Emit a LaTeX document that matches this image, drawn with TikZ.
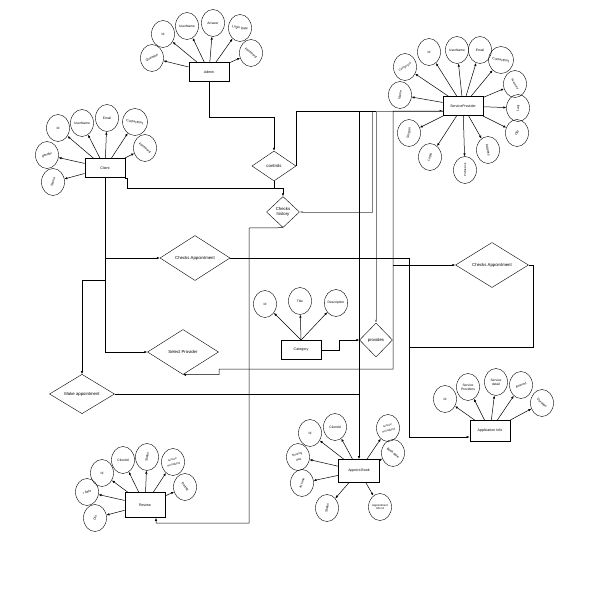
\documentclass[tikz,border=0pt]{standalone}
\usepackage{fontspec}
\setmainfont{Liberation Sans}
\usetikzlibrary{shapes.geometric,arrows.meta}
\tikzset{
  ent/.style={draw,thick,rectangle,minimum width=40pt,minimum height=19pt,inner sep=0pt,font=\fontsize{3.6}{4}\selectfont},
  attr/.style={draw,ellipse,minimum width=23pt,minimum height=27pt,inner sep=0pt,align=center,font=\fontsize{3.3}{3.8}\selectfont},
  small/.style={font=\fontsize{2.8}{3.2}\selectfont},
  rel/.style={draw,diamond,inner sep=0pt,align=center,font=\fontsize{4.3}{5}\selectfont},
  arr/.style={-{Latex[length=3pt,width=2.4pt]},line width=0.5pt},
  ln/.style={line width=0.6pt},
}
\begin{document}
\begin{tikzpicture}[x=1pt,y=-1pt]
\useasboundingbox[fill=white] (0,0) rectangle (597,598);

% ---------------- Admin ----------------
\node[ent] (admin) at (209,72) {Admin};
\node[attr] (ad1) at (163,34) {Id};
\node[attr] (ad2) at (187,26) {UserName};
\node[attr] (ad3) at (213,23) {Answer};
\node[attr] (ad4) at (240,28) {\rotatebox{-10}{Login Date}};
\node[attr] (ad5) at (251,53) {\rotatebox{-40}{Password}};
\node[attr] (ad6) at (152,58) {\rotatebox{25}{Question}};
\foreach \a in {ad1,ad2,ad3,ad4,ad5,ad6} \draw[arr] (admin) -- (\a);

% ---------------- Client ----------------
\node[ent] (client) at (105,168) {Client};
\node[attr] (cl1) at (58,128) {Id};
\node[attr] (cl2) at (82,123) {UserName};
\node[attr] (cl3) at (107,118) {Email};
\node[attr] (cl4) at (135,122) {\rotatebox{-10}{ContactNo1}};
\node[attr] (cl5) at (145,148) {\rotatebox{-40}{Password}};
\node[attr] (cl6) at (47,155) {\rotatebox{20}{gender}};
\node[attr] (cl7) at (53,182) {\rotatebox{70}{Name}};
\foreach \a in {cl1,cl2,cl3,cl4,cl5,cl6,cl7} \draw[arr] (client) -- (\a);

% ---------------- Service Provider ----------------
\node[ent] (sp) at (463,106) {ServiceProvider};
\node[attr] (sp1) at (429,52) {Id};
\node[attr] (sp2) at (457,50) {UserName};
\node[attr] (sp3) at (480,50) {Email};
\node[attr] (sp4) at (501,60) {\rotatebox{-10}{ContactNo1}};
\node[attr,small] (sp5) at (515,84) {\rotatebox{-60}{Password}};
\node[attr] (sp6) at (518,108) {\rotatebox{80}{Last}};
\node[attr] (sp7) at (517,133) {\rotatebox{70}{City}};
\node[attr] (sp8) at (488,150) {\rotatebox{-80}{Address}};
\node[attr,small] (sp9) at (465,170) {\rotatebox{90}{ProfileLink}};
\node[attr] (sp10) at (430,157) {\rotatebox{70}{Login}};
\node[attr] (sp11) at (409,133) {\rotatebox{80}{Slogan}};
\node[attr] (sp12) at (400,95) {\rotatebox{80}{Name}};
\node[attr,small] (sp13) at (405,67) {\rotatebox{30}{CategoryId}};
\foreach \a in {sp1,sp2,sp3,sp4,sp5,sp6,sp7,sp8,sp9,sp10,sp11,sp12,sp13} \draw[arr] (sp) -- (\a);

% ---------------- Relationships ----------------
\node[rel,minimum width=44pt,minimum height=30pt] (controls) at (274,166) {controls};
\node[rel,minimum width=33pt,minimum height=31pt] (ch) at (283,212) {Checks\\history};
\node[rel,minimum width=70pt,minimum height=45pt] (ca1) at (195,258) {Checks Appointment};
\node[rel,minimum width=73pt,minimum height=45pt] (ca2) at (492,265) {Checks Appointment};
\node[rel,minimum width=71pt,minimum height=45pt] (selp) at (183,352) {Select Provider};
\node[rel,minimum width=65pt,minimum height=28pt] (ma) at (82,394) {Make appointment};
\node[rel,minimum width=33pt,minimum height=34pt] (prov) at (376,340) {provides};

% ---------------- Category ----------------
\node[ent] (cat) at (301,350) {Category};
\node[attr] (cat1) at (265,304) {Id};
\node[attr] (cat2) at (300,301) {Title};
\node[attr] (cat3) at (336,303) {Description};
\foreach \a in {cat1,cat2,cat3} \draw[arr] (cat.north) -- (\a);

% ---------------- Application Info ----------------
\node[ent,minimum height=21pt] (ai) at (490,431) {Application Info};
\node[attr] (ai1) at (445,399) {Id};
\node[attr] (ai2) at (468,387) {Service\\Providers};
\node[attr] (ai3) at (496,382) {Service\\detail};
\node[attr] (ai4) at (521,385) {\rotatebox{20}{Amount}};
\node[attr] (ai5) at (542,403) {\rotatebox{-45}{Duration}};
\foreach \a in {ai1,ai2,ai3,ai4,ai5} \draw[arr] (ai) -- (\a);

% ---------------- Appoint Book ----------------
\node[ent,minimum width=41pt,minimum height=23pt] (ab) at (359,471) {Appoint Book};
\node[attr] (ab1) at (310,433) {Id};
\node[attr] (ab2) at (335,427) {ClientId};
\node[attr,small] (ab3) at (388,428) {\rotatebox{15}{\shortstack{service\\ProviderId}}};
\node[attr] (ab4) at (393,453) {\rotatebox{-40}{Book date}};
\node[attr,small] (ab5) at (298,457) {\rotatebox{15}{\shortstack{Booking\\date}}};
\node[attr] (ab6) at (302,483) {\rotatebox{70}{At time}};
\node[attr] (ab7) at (327,508) {\rotatebox{80}{Status}};
\node[attr,small] (ab8) at (380,507) {Appointment\\Info Id};
\foreach \a in {ab1,ab2,ab3,ab4,ab5,ab6,ab7,ab8} \draw[arr] (ab) -- (\a);

% ---------------- Review ----------------
\node[ent,minimum height=25pt] (rv) at (145,505) {Review};
\node[attr] (rv1) at (102,473) {Id};
\node[attr] (rv2) at (123,460) {ClientId};
\node[attr] (rv3) at (147,457) {\rotatebox{80}{Status}};
\node[attr,small] (rv4) at (173,462) {\rotatebox{15}{\shortstack{service\\ProviderId}}};
\node[attr] (rv5) at (185,487) {\rotatebox{-50}{Rating}};
\node[attr] (rv6) at (87,492) {\rotatebox{15}{r date}};
\node[attr] (rv7) at (95,518) {\rotatebox{70}{Dis}};
\foreach \a in {rv1,rv2,rv3,rv4,rv5,rv6,rv7} \draw[arr] (rv) -- (\a);

% ---------------- Connectors ----------------
\draw[arr] (admin.south) -- (209,117) -- (274,117) -- (controls.north);
\draw[arr] (controls.east) |- ([yshift=-5pt]sp.west);
\draw[ln] (controls.south) -- (274,188);
\draw[arr] (client.south east) -| (127,188) -| (ch.north);
\draw[arr,gray] ([yshift=-5pt]sp.west) -| (372,212) -- (ch.east);
\draw[arr] ([yshift=-5pt]sp.west) -| (ab.north);
\draw[arr,gray] ([yshift=-5pt]sp.west) -| (prov.north);
\draw[arr] ([yshift=-5pt]sp.west) -| (393,369) -- (219,369) -- (219,374.5) -- (selp.south);
\draw[arr] (393,265) -- (ca2.west);
\draw[ln] (ca2.east) -- (533,265) -- (533,347) -- (409,347);
\draw[arr] (ca1.east) -| (409,437) -- ([yshift=-6pt]ai.west);
\draw[arr] (ch.south) -- (249,228) -- (249,523) -- (156,523) -- ([xshift=11pt]rv.south);
\draw[arr,line width=0.9pt] (client.south) |- (selp.west);
\draw[arr] (105,258) -- (ca1.west);
\draw[arr] (105,280) -- (82,280) -- (ma.north);
\draw[ln] (ma.east) -- (359,394);
\draw[arr] (cat.east) -- (339,350) -- (339,340) -- (prov.west);
\end{tikzpicture}
\end{document}
